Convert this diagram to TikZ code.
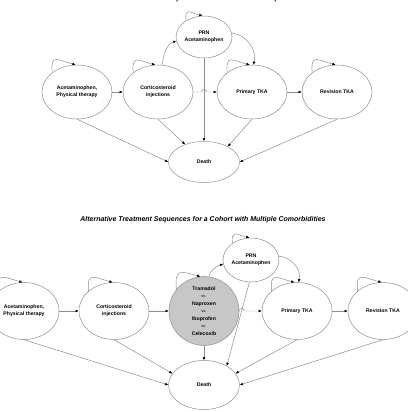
\documentclass[tikz,border=0pt]{standalone}
\usepackage{fontspec}
\setmainfont{Liberation Sans}
\usetikzlibrary{shapes.geometric,arrows.meta,calc}

\begin{document}
\begin{tikzpicture}[x=1bp,y=1bp,
  state/.style={ellipse, draw=black!45, line width=0.5pt, inner sep=0pt,
    minimum width=70bp, minimum height=54bp, align=center,
    font=\fontsize{5.2}{7.3}\selectfont\bfseries},
  arr/.style={draw=black!45, line width=0.5pt,
    -{Latex[length=3.2pt,width=2.8pt,color=black]}},
  selfloop/.style={arr, out=95, in=165, looseness=2},
  heading/.style={font=\fontsize{7}{8}\selectfont\bfseries\itshape}]

% Page size of the reference
\useasboundingbox (0,0) rectangle (408,412);

% ---------- Standard of care sequence ----------
\node[heading] (title1) at (203,413)
  {Standard of Care Treatment Sequence for a Cohort with Multiple Comorbidities};

\node[state] (a1) at (77,320) {Acetaminophen,\\Physical therapy};
\node[state] (c1) at (158,320) {Corticosteroid\\injections};
\node[state, minimum width=56bp, minimum height=42bp] (p1) at (204,375) {PRN\\Acetaminophen};
\node[state] (t1) at (252,320) {Primary TKA};
\node[state] (r1) at (337,320) {Revision TKA};
\node[state, minimum width=71bp, minimum height=41bp] (d1) at (204,250) {Death};

% Self loops
\draw[selfloop] (a1.142) to (a1.93);
\draw[selfloop] (c1.142) to (c1.96);
\draw[selfloop] (p1.138) to (p1.94);
\draw[selfloop] (t1.142) to (t1.95);
\draw[selfloop] (r1.142) to (r1.93);

% Sequence
\draw[arr] (a1) -- (c1);
\coordinate (x1) at (p1.south |- c1.east);
\draw[arr] (c1.east) -- ($(x1)+(-2.5,0)$) arc[start angle=180, end angle=0, radius=2.5bp] -- (t1.west);
\draw[arr] (t1) -- (r1);
\draw[arr] (c1.82) to[out=78, in=200] (p1.188);
\draw[arr] (p1.8) to[out=-5, in=75] (t1.87);

% To death
\draw[arr] (a1.south) -- (d1.west);
\draw[arr] (c1.south) -- (d1.137);
\draw[arr] (p1.south) -- (d1.north);
\draw[arr] (t1.south) -- (d1.33);
\draw[arr] (r1.south) -- (d1.east);

% ---------- Alternative sequences ----------
\node[heading] (title2) at (203,192)
  {Alternative Treatment Sequences for a Cohort with Multiple Comorbidities};

\node[state, minimum height=57bp] (a2) at (24,101) {Acetaminophen,\\Physical therapy};
\node[state, minimum height=57bp] (c2) at (114,101) {Corticosteroid\\injections};
\node[state, minimum height=58bp, fill=black!22, font=\fontsize{5.2}{7.5}\selectfont\bfseries] (g2) at (204,101)
  {Tramadol\\{\mdseries\fontsize{4}{7.5}\selectfont vs.}\\Naproxen\\{\mdseries\fontsize{4}{7.5}\selectfont vs.}\\Ibuprofen\\{\mdseries\fontsize{4}{7.5}\selectfont vs.}\\Celecoxib};
\node[state, minimum width=56bp, minimum height=44bp] (p2) at (251,152) {PRN\\Acetaminophen};
\node[state, minimum height=57bp] (t2) at (297,101) {Primary TKA};
\node[state, minimum height=57bp] (r2) at (383,101) {Revision TKA};
\node[state, minimum width=71bp, minimum height=49bp] (d2) at (204,27) {Death};

% Self loops
\draw[selfloop] (a2.142) to (a2.93);
\draw[selfloop] (c2.142) to (c2.93);
\draw[selfloop] (g2.142) to (g2.96);
\draw[selfloop] (p2.138) to (p2.94);
\draw[selfloop] (t2.142) to (t2.95);
\draw[selfloop] (r2.142) to (r2.93);

% Sequence
\draw[arr] (a2) -- (c2);
\draw[arr] (c2) -- (g2);
\coordinate (x2) at (241.8,101);
\draw[arr] (g2.east) -- ($(x2)+(-2.5,0)$) arc[start angle=180, end angle=0, radius=2.5bp] -- (t2.west);
\draw[arr] (t2) -- (r2);
\draw[arr] (g2.82) to[out=75, in=200] (p2.188);
\draw[arr] (p2.8) to[out=-5, in=75] (t2.87);

% To death
\draw[arr] (a2.south) -- (d2.west);
\draw[arr] (c2.south) -- (d2.160);
\draw[arr] (g2.south) -- (d2.north);
\draw[arr] (p2.266) -- (d2.40);
\draw[arr] (t2.south) -- (d2.20);
\draw[arr] (r2.south) -- (d2.east);

\end{tikzpicture}
\end{document}
